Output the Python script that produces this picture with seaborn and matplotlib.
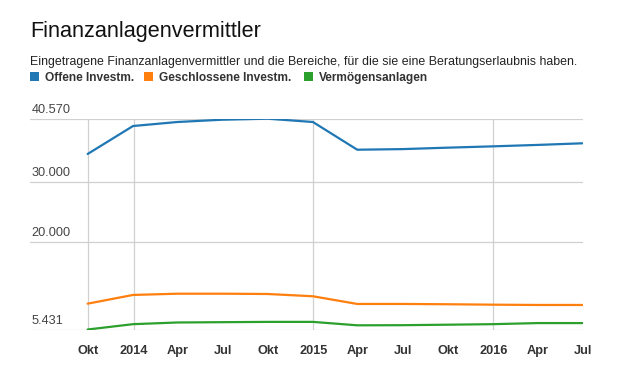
import matplotlib
matplotlib.use("Agg")
import matplotlib.pyplot as plt
from matplotlib.patches import Rectangle
import seaborn as sns
import pandas as pd

# ---------------- data ----------------
dates = ["2013-09-30", "2013-12-31", "2014-03-31", "2014-06-30", "2014-09-30",
         "2014-12-31", "2015-03-31", "2015-06-30", "2015-09-30", "2015-12-31",
         "2016-03-31", "2016-06-30"]
offene = [34690, 39350, 40020, 40400, 40570, 40020, 35400, 35500, 35740, 35960, 36200, 36470]
geschlossene = [9737, 11190, 11400, 11400, 11350, 10970, 9690, 9690, 9640, 9570, 9520, 9520]
vermoegen = [5431, 6320, 6600, 6650, 6700, 6700, 6130, 6150, 6230, 6320, 6500, 6500]
series_names = ["Offene Investm.", "Geschlossene Investm.", "Vermögensanlagen"]
colors = ["#1f77b4", "#ff7f0e", "#2ca02c"]

tick_dates = ["2013-10-01", "2014-01-01", "2014-04-01", "2014-07-01", "2014-10-01",
              "2015-01-01", "2015-04-01", "2015-07-01", "2015-10-01", "2016-01-01",
              "2016-04-01", "2016-07-01"]
tick_labels = ["Okt", "2014", "Apr", "Jul", "Okt", "2015", "Apr", "Jul", "Okt", "2016", "Apr", "Jul"]
vgrid_dates = ["2013-10-01", "2014-01-01", "2015-01-01", "2016-01-01"]
y_ticks = [5431, 20000, 30000, 40570]
x_range = ["2013-06-05", "2016-07-01"]

title = "Finanzanlagenvermittler"
subtitle = "Eingetragene Finanzanlagenvermittler und die Bereiche, für die sie eine Beratungserlaubnis haben."

# ---------------- frame ----------------
df = pd.DataFrame({
    "Datum": pd.to_datetime(dates * 3),
    "Wert": offene + geschlossene + vermoegen,
    "Serie": [series_names[0]] * len(dates) + [series_names[1]] * len(dates) + [series_names[2]] * len(dates),
})

sns.set_style("white")
plt.rcParams["font.family"] = ["Liberation Sans", "DejaVu Sans"]

W, H = 621, 383
fig = plt.figure(figsize=(W / 100, H / 100), dpi=100)
left, right, top, bottom = 30, 583, 118.7, 329.5
ax = fig.add_axes([left / W, 1 - bottom / H, (right - left) / W, (bottom - top) / H])

sns.lineplot(data=df, x="Datum", y="Wert", hue="Serie", palette=dict(zip(series_names, colors)),
             linewidth=1.6, legend=False, ax=ax, zorder=3)

ax.set_xlim(pd.to_datetime(x_range[0]), pd.to_datetime(x_range[1]))
ax.set_ylim(y_ticks[0], y_ticks[-1])
for s in ax.spines.values():
    s.set_visible(False)

ax.set_yticks(y_ticks)
ax.set_yticklabels([])
ax.yaxis.grid(True, color="#d0d0d0", linewidth=0.9)
ax.tick_params(axis="y", length=0)
for v in y_ticks:
    ax.annotate(f"{v:,}".replace(",", "."), xy=(0, v), xycoords=ax.get_yaxis_transform(),
                xytext=(1.2, 4.3), textcoords="offset points", va="baseline", ha="left",
                fontsize=9.2, color="#444444", annotation_clip=False)

ax.set_xticks(pd.to_datetime(tick_dates))
ax.set_xticklabels(tick_labels, fontsize=9.2, fontweight="bold", color="#333333")
ax.tick_params(axis="x", length=0, pad=11)
ax.xaxis.grid(False)
for d in vgrid_dates:
    ax.axvline(pd.to_datetime(d), color="#d0d0d0", linewidth=0.9, zorder=1)

ax.set_xlabel("")
ax.set_ylabel("")

# ---------------- title, subtitle, legend ----------------
fig.text(30 / W, 1 - 36.7 / H, title, fontsize=15.6, color="#111111", va="baseline", ha="left")
fig.text(30 / W, 1 - 65 / H, subtitle, fontsize=8.9, color="#222222", va="baseline", ha="left")

leg_x = [30, 144, 304]
for x0, name, c in zip(leg_x, series_names, colors):
    fig.patches.append(Rectangle((x0 / W, 1 - 81 / H), 9 / W, 8.7 / H, transform=fig.transFigure,
                                 facecolor=c, edgecolor="none"))
    fig.text((x0 + 15) / W, 1 - 81 / H, name, fontsize=8.6, fontweight="bold", color="#333333",
             va="baseline", ha="left")

fig.savefig("out.png", dpi=100)
